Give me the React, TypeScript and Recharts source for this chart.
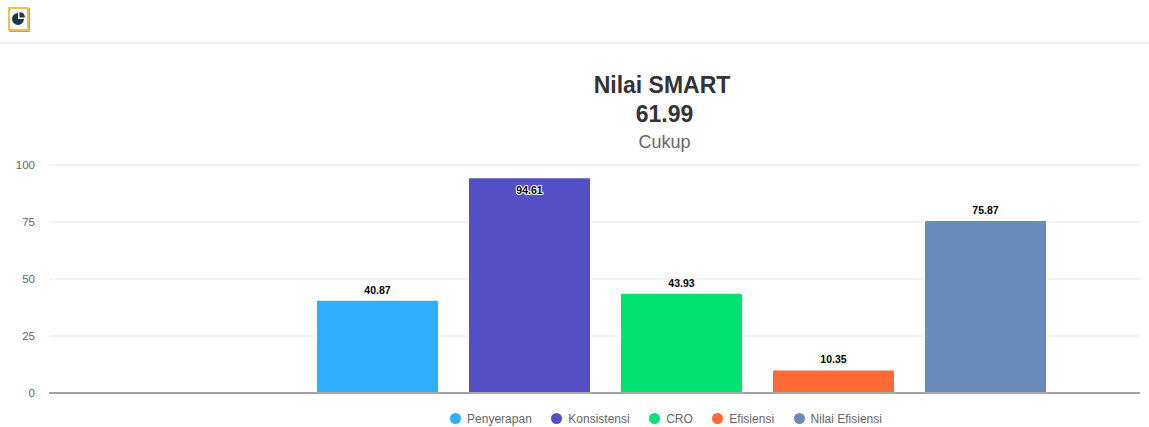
import React from 'react';
import { BarChart, Bar, XAxis, YAxis, CartesianGrid, Legend, LabelList, ReferenceLine } from 'recharts';

const categories = ['Nilai SMART'];
const seriesNames = ['Penyerapan', 'Konsistensi', 'CRO', 'Efisiensi', 'Nilai Efisiensi'];
const seriesValues = [40.87, 94.61, 43.93, 10.35, 75.87];
const seriesColors = ['#2caffe', '#544fc5', '#00e272', '#fe6a35', '#6b8abc'];
const yTicks = [0, 25, 50, 75, 100];

const chartTitle = 'Nilai SMART';
const chartScore = '61.99';
const chartGrade = 'Cukup';

const FONT = '"Liberation Sans", Arial, sans-serif';

const chartData = categories.map(category => {
  const row: Record<string, string | number> = { category };
  seriesNames.forEach((name, i) => {
    row[name] = seriesValues[i];
  });
  return row;
});

// value labels sit above the bar, unless the bar nearly reaches the top
const renderValueLabel = (props: any) => {
  const { x, y, width, value } = props;
  const inside = Number(value) > 90;
  return (
    <text
      x={x + width / 2}
      y={inside ? y + 17 : y - 6}
      textAnchor="middle"
      fontFamily={FONT}
      fontSize={10.5}
      fontWeight={700}
      fill="#000"
      stroke="#fff"
      strokeWidth={2}
      strokeLinejoin="round"
      paintOrder="stroke"
    >
      {Number(value).toFixed(2)}
    </text>
  );
};

const renderLegend = () => (
  <div style={{ display: 'flex', justifyContent: 'center', alignItems: 'center', gap: 19.5, height: 17, marginTop: 17, paddingLeft: 192 }}>
    {seriesNames.map((name, i) => (
      <div key={name} style={{ display: 'flex', alignItems: 'center', gap: 6, fontFamily: FONT, fontSize: 12, color: '#666' }}>
        <span style={{ width: 11, height: 11, borderRadius: '50%', background: seriesColors[i], display: 'inline-block' }} />
        {name}
      </div>
    ))}
  </div>
);

const App: React.FC = () => {
  return (
    <div style={{ position: 'absolute', left: 0, top: 0, width: 1149, height: 427, background: '#fff', overflow: 'hidden' }}>
      {/* Header strip with the chart icon */}
      <div style={{ position: 'absolute', left: 0, top: 0, width: 1149, height: 42, borderBottom: '2px solid #f0f0f0' }} />
      <div style={{ position: 'absolute', left: 8, top: 7, width: 17, height: 20, border: '2px solid #f0c24d', borderRadius: 1, boxShadow: '1px 1px 0 #c9a23a' }}>
        <svg width="17" height="20" viewBox="0 0 17 20">
          <path d="M8 4 A6 6 0 1 0 14 10 L8 10 Z" fill="#1f3350" />
          <path d="M9.5 3 A6 6 0 0 1 15 8.5 L9.5 8.5 Z" fill="#1f3350" />
        </svg>
      </div>

      {/* Title block */}
      <div style={{ position: 'absolute', left: 462, top: 70, width: 400, textAlign: 'center', fontFamily: FONT, color: '#333' }}>
        <div style={{ fontSize: 23, fontWeight: 700, lineHeight: '30px' }}>{chartTitle}</div>
        <div style={{ fontSize: 23, fontWeight: 700, lineHeight: '28px', paddingLeft: 5 }}>{chartScore}</div>
        <div style={{ fontSize: 18, color: '#666', lineHeight: '28px', paddingLeft: 5 }}>{chartGrade}</div>
      </div>

      <BarChart
        width={1149}
        height={427}
        data={chartData}
        margin={{ top: 165, right: 9, bottom: 0, left: 0 }}
        barSize={123}
        barGap={29}
        style={{ position: 'absolute', left: 0, top: 0 }}
      >
        <CartesianGrid vertical={false} stroke="#e6e6e6" />
        <XAxis
          dataKey="category"
          tick={false}
          tickLine={false}
          height={0}
          axisLine={false}
          padding={{ left: 174, right: 0 }}
        />
        <YAxis
          width={49}
          domain={[0, 100]}
          ticks={yTicks}
          axisLine={false}
          tickLine={false}
          tickMargin={14}
          tick={{ fontFamily: FONT, fontSize: 11.5, fill: '#666', dx: 6 }}
        />
        <Legend verticalAlign="bottom" height={34} content={renderLegend} />
        {seriesNames.map((name, i) => (
          <Bar key={name} dataKey={name} name={name} fill={seriesColors[i]} stroke="#fff" strokeWidth={2} radius={[2, 2, 0, 0]} isAnimationActive={false}>
            <LabelList dataKey={name} content={renderValueLabel} />
          </Bar>
        ))}
        <ReferenceLine y={0} stroke="#888" strokeWidth={1.5} />
      </BarChart>
    </div>
  );
};

export default App;
